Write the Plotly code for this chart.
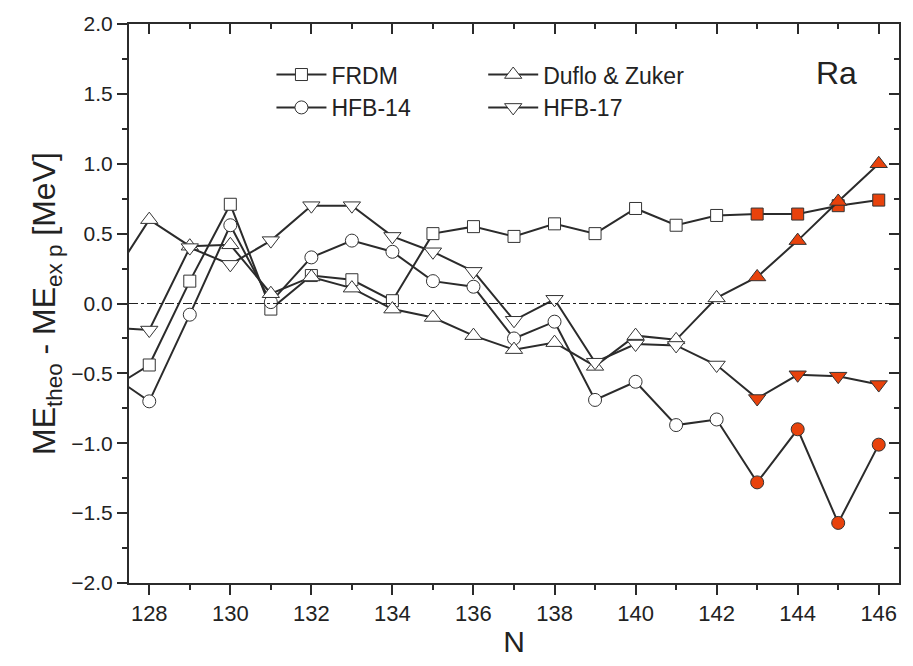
import plotly.graph_objects as go

# Neutron number
N = [127, 128, 129, 130, 131, 132, 133, 134, 135, 136, 137, 138, 139, 140,
     141, 142, 143, 144, 145, 146]

# ME_theo - ME_exp [MeV] for Ra isotopes
frdm = [-0.62, -0.44, 0.16, 0.71, -0.04, 0.20, 0.17, 0.02, 0.50, 0.55, 0.48,
        0.57, 0.50, 0.68, 0.56, 0.63, 0.64, 0.64, 0.70, 0.74]
hfb14 = [-0.50, -0.70, -0.08, 0.56, 0.01, 0.33, 0.45, 0.37, 0.16, 0.12, -0.25,
         -0.13, -0.69, -0.56, -0.87, -0.83, -1.28, -0.90, -1.57, -1.01]
duflo = [0.15, 0.60, 0.41, 0.42, 0.07, 0.19, 0.11, -0.04, -0.10, -0.23, -0.33,
         -0.28, -0.45, -0.23, -0.26, 0.04, 0.19, 0.45, 0.73, 1.00]
hfb17 = [-0.17, -0.19, 0.40, 0.28, 0.45, 0.70, 0.70, 0.48, 0.37, 0.23, -0.12,
         0.03, -0.42, -0.29, -0.30, -0.44, -0.68, -0.51, -0.52, -0.58]

# Isotopes from this N on are drawn with filled markers
FILLED_FROM = 143

LINE = "#2b2b2b"
RED = "#e8420c"
FONT = "Liberation Sans, Arial, sans-serif"

fill = ["white" if n < FILLED_FROM else RED for n in N]

series = [
    ("FRDM", frdm, "square", 12, "legend"),
    ("HFB-14", hfb14, "circle", 13, "legend"),
    ("Duflo & Zuker", duflo, "triangle-up", 15, "legend2"),
    ("HFB-17", hfb17, "triangle-down", 15, "legend2"),
]

fig = go.Figure()

for name, vals, sym, size, leg in series:
    fig.add_trace(go.Scatter(
        x=N, y=vals, name=name, mode="lines+markers",
        line=dict(color=LINE, width=2),
        marker=dict(symbol=sym, size=size, color=fill,
                    line=dict(color="#333333", width=1)),
        legend=leg, cliponaxis=True,
    ))

# zero reference line
fig.add_hline(y=0, line=dict(color="#222222", width=1, dash="dashdot"))

# phantom trace carrying the top / right mirrored axes
fig.add_trace(go.Scatter(x=[N[1]], y=[0], xaxis="x2", yaxis="y2",
                         mode="markers", marker=dict(opacity=0),
                         showlegend=False, hoverinfo="skip"))

xr = [127.5, 146.5]
yr = [-2.0, 2.0]

fig.update_layout(
    width=913, height=666,
    margin=dict(l=129, r=14, t=19, b=83),
    plot_bgcolor="white", paper_bgcolor="white",
    font=dict(family=FONT, color="#222222"),
    xaxis=dict(
        range=xr, tick0=128, dtick=2, showgrid=False, zeroline=False,
        showline=True, linecolor=LINE, linewidth=2,
        ticks="outside", ticklen=10, tickwidth=2, tickcolor=LINE,
        minor=dict(ticks="outside", ticklen=5, tickwidth=2, dtick=1,
                   tickcolor=LINE, showgrid=False),
        tickfont=dict(family=FONT, size=22),
        title=dict(text="N", font=dict(family=FONT, size=30), standoff=6),
    ),
    yaxis=dict(
        range=yr, dtick=0.5, tickformat=".1f", showgrid=False, zeroline=False,
        showline=True, linecolor=LINE, linewidth=2,
        ticks="outside", ticklen=10, tickwidth=2, tickcolor=LINE,
        minor=dict(ticks="outside", ticklen=5, tickwidth=2, dtick=0.25,
                   tickcolor=LINE, showgrid=False),
        tickfont=dict(family=FONT, size=21),
        title=dict(text="ME<sub>theo</sub> - ME<sub>ex p</sub> [MeV]",
                   font=dict(family=FONT, size=32), standoff=6),
    ),
    xaxis2=dict(
        range=xr, overlaying="x", side="top", tick0=128, dtick=2,
        showgrid=False, zeroline=False, showticklabels=False,
        showline=True, linecolor=LINE, linewidth=2,
        ticks="inside", ticklen=10, tickwidth=2, tickcolor=LINE,
        minor=dict(ticks="inside", ticklen=5, tickwidth=2, dtick=1,
                   tickcolor=LINE, showgrid=False),
    ),
    yaxis2=dict(
        range=yr, overlaying="y", side="right", dtick=0.5,
        showgrid=False, zeroline=False, showticklabels=False,
        showline=True, linecolor=LINE, linewidth=2,
        ticks="inside", ticklen=10, tickwidth=2, tickcolor=LINE,
        minor=dict(ticks="inside", ticklen=5, tickwidth=2, dtick=0.25,
                   tickcolor=LINE, showgrid=False),
    ),
    legend=dict(x=0.185, y=0.948, xanchor="left", yanchor="top",
                bgcolor="rgba(0,0,0,0)", font=dict(family=FONT, size=23),
                tracegroupgap=0, itemwidth=50),
    legend2=dict(x=0.46, y=0.948, xanchor="left", yanchor="top",
                 bgcolor="rgba(0,0,0,0)", font=dict(family=FONT, size=23),
                 tracegroupgap=0, itemwidth=50),
    annotations=[dict(text="Ra", xref="paper", yref="paper", x=0.948, y=0.913,
                      xanchor="right", yanchor="middle", showarrow=False,
                      font=dict(family=FONT, size=32))],
)

fig.write_html("out.html")
